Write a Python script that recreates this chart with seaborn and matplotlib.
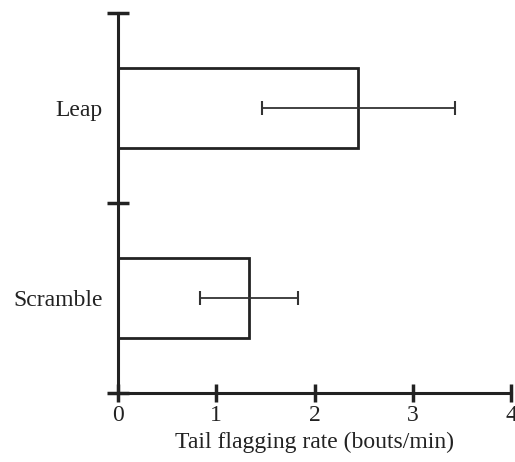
import matplotlib
matplotlib.use("Agg")
import matplotlib.pyplot as plt
import seaborn as sns
import pandas as pd
import numpy as np

categories = ["Leap", "Scramble"]
means = [2.44, 1.33]
err_low = [1.47, 0.83]
err_high = [3.43, 1.83]
xticks = [0, 1, 2, 3, 4]
xlabel = "Tail flagging rate (bouts/min)"

sns.set_style("white")
plt.rcParams['font.family'] = ['Liberation Serif', 'DejaVu Serif']

df = pd.DataFrame({"cat": categories, "rate": means})

fig = plt.figure(figsize=(5.15, 4.62), dpi=100)
ax = fig.add_axes([118/515, 1-393/462, (511-118)/515, (393-13)/462])

ink = "#222222"
sns.barplot(data=df, y="cat", x="rate", orient="h", fill=False,
            edgecolor=ink, linewidth=2.0, width=0.426, ax=ax, errorbar=None)
for p in ax.patches:
    p.set_facecolor("none")
    p.set_edgecolor(ink)
    p.set_linewidth(2.0)

ypos = np.arange(len(categories))
m = np.array(means)
xerr = np.vstack([m - np.array(err_low), np.array(err_high) - m])
ax.errorbar(m, ypos, xerr=xerr, fmt="none", ecolor="#333333",
            elinewidth=1.3, capsize=5, capthick=1.5)

ax.set_xlim(0, 4)
ax.set_ylim(1.5, -0.5)
ax.set_xticks(xticks)
ax.set_xticklabels([str(t) for t in xticks], fontsize=17, color=ink)
ax.set_yticks(ypos)
ax.set_yticklabels(categories, fontsize=17, color=ink)
ax.tick_params(axis="y", which="major", left=True, length=0, pad=11)
ax.set_yticks([-0.5, 0.5, 1.5], minor=True)
ax.tick_params(axis="y", which="minor", left=True, length=16, width=2.5,
               direction="inout", color=ink)
ax.tick_params(axis="x", which="major", bottom=True, length=13, width=2.5,
               direction="inout", color=ink, pad=2)
ax.set_xlabel(xlabel, fontsize=17, color=ink, labelpad=4)
ax.set_ylabel("")

for s in ["top", "right"]:
    ax.spines[s].set_visible(False)
for s in ["left", "bottom"]:
    ax.spines[s].set_color(ink)
    ax.spines[s].set_linewidth(2.2)

fig.savefig("out.png", dpi=100)
